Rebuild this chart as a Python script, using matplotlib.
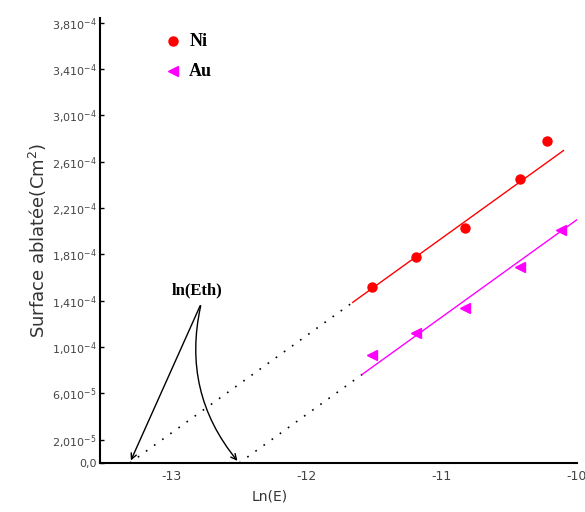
import numpy as np
import matplotlib
matplotlib.use("Agg")
import matplotlib.pyplot as plt

# measured points (ln(E), ablated surface in cm^2)
ni_x = [-11.52, -11.19, -10.83, -10.42, -10.22]
ni_y = [1.52e-4, 1.78e-4, 2.03e-4, 2.45e-4, 2.78e-4]
au_x = [-11.52, -11.19, -10.83, -10.42, -10.12]
au_y = [0.93e-4, 1.12e-4, 1.34e-4, 1.69e-4, 2.01e-4]

# linear fits: y = slope * (x - ln(Eth))
slope = 8.4e-5
ni_eth = -13.31
au_eth = -12.50
ni_fit_range = [-11.66, -10.1]
au_fit_range = [-11.59, -9.99]

yticks = [0, 2.0e-5, 6.0e-5, 1.0e-4, 1.4e-4, 1.8e-4, 2.2e-4, 2.6e-4, 3.0e-4, 3.4e-4, 3.8e-4]
ytick_labels = ["0,0", r"2,010$^{-5}$", r"6,010$^{-5}$", r"1,010$^{-4}$", r"1,410$^{-4}$",
                r"1,810$^{-4}$", r"2,210$^{-4}$", r"2,610$^{-4}$", r"3,010$^{-4}$",
                r"3,410$^{-4}$", r"3,810$^{-4}$"]
xticks = [-13, -12, -11, -10]
xtick_labels = ["-13", "-12", "-11", "-10"]

fig = plt.figure(figsize=(5.85, 5.12), dpi=100)
ax = fig.add_axes([100 / 585, 1 - 463 / 512, 477 / 585, 445 / 512])

def fit(x, eth):
    return slope * (np.asarray(x) - eth)

# dotted extrapolation down to the x axis
for eth, rng in [(ni_eth, ni_fit_range), (au_eth, au_fit_range)]:
    xs = [eth, rng[0]]
    ax.plot(xs, fit(xs, eth), color="black", lw=1.2, linestyle=(0, (1, 5)))

ax.plot(ni_fit_range, fit(ni_fit_range, ni_eth), color="red", lw=1)
ax.plot(au_fit_range, fit(au_fit_range, au_eth), color="magenta", lw=1)
ax.plot(ni_x, ni_y, "o", color="red", ms=6.5, ls="none")
ax.plot(au_x, au_y, "<", color="magenta", ms=7.5, ls="none")

ax.set_xlim(-13.53, -10)
ax.set_ylim(0, 3.84e-4)
ax.set_yticks(yticks)
ax.set_yticklabels(ytick_labels)
ax.set_xticks(xticks)
ax.set_xticklabels(xtick_labels)
ax.tick_params(axis="y", direction="in", length=3, width=1, labelsize=8, labelcolor="#444444", pad=2)
ax.tick_params(axis="x", length=0, labelsize=9, labelcolor="#444444", pad=5)
for s in ["top", "right"]:
    ax.spines[s].set_visible(False)
for s in ["left", "bottom"]:
    ax.spines[s].set_linewidth(1.5)

ax.set_ylabel("Surface ablatée(Cm$^2$)", fontsize=13, color="#333333", labelpad=2)
fig.text(270 / 585, 1 - 497 / 512, "Ln(E)", fontsize=10, color="#333333", ha="center", va="center")

# legend drawn by hand like the original
ax.plot([-12.99], [3.64e-4], "o", color="red", ms=6.5, clip_on=False)
ax.plot([-12.99], [3.38e-4], "<", color="magenta", ms=7.5, clip_on=False)
ax.text(-12.87, 3.64e-4, "Ni", fontsize=13, fontweight="bold", family="Liberation Serif", va="center")
ax.text(-12.87, 3.38e-4, "Au", fontsize=13, fontweight="bold", family="Liberation Serif", va="center")

# ln(Eth) annotation with arrows
ax.text(-12.81, 1.49e-4, "ln(Eth)", fontsize=12, fontweight="bold", family="Liberation Serif",
        ha="center", va="center")
ax.annotate("", xy=(ni_eth, 0), xytext=(-12.78, 1.38e-4),
            arrowprops=dict(arrowstyle="->", color="black", lw=1, connectionstyle="arc3,rad=0.0"))
ax.annotate("", xy=(au_eth, 0), xytext=(-12.78, 1.38e-4),
            arrowprops=dict(arrowstyle="->", color="black", lw=1, connectionstyle="arc3,rad=0.25"))

fig.savefig("out.png", dpi=100)
